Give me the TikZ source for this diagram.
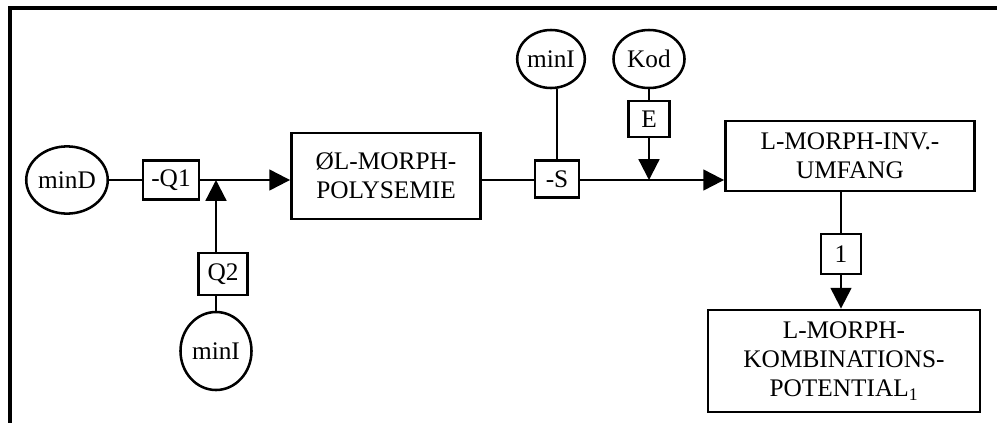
\documentclass[tikz,border=0pt]{standalone}
\usepackage{fontspec}
\setmainfont{Liberation Serif}
\usetikzlibrary{arrows.meta,positioning,shapes.geometric}
\tikzset{
  stagebox/.style={draw,line width=2pt,align=center,inner sep=0pt,
    font=\fontsize{18}{20.6}\selectfont},
  opbox/.style={draw,line width=1.8pt,inner sep=0pt,
    font=\fontsize{18}{20.6}\selectfont},
  parambubble/.style={draw,ellipse,line width=1.8pt,inner sep=0pt,
    font=\fontsize{18}{20.6}\selectfont},
  flowline/.style={line width=1.6pt},
  flowarrow/.style={flowline,-{Triangle[length=0.52cm,width=0.52cm]}}
}
\begin{document}
\begin{tikzpicture}[x=0.025cm,y=-0.025cm]
  \useasboundingbox (0,0) rectangle (999,423);
  % frame
  \draw[line width=2.4pt] (997,8) -- (10,8) -- (10,423);
  % main chain
  \node[parambubble,minimum width=2cm,minimum height=1.68cm] (minD) at (67,180) {minD};
  \node[opbox,minimum width=1.4cm,minimum height=0.975cm] (q1) at (171,180) {-Q1};
  \coordinate (j1) at (216,180);
  \node[opbox,minimum width=1.225cm,minimum height=1.05cm] (q2) at (223,274) {Q2};
  \node[parambubble,minimum width=1.775cm,minimum height=1.95cm] (minbot) at (216,351) {minI};
  \node[stagebox,minimum width=4.725cm,minimum height=2.15cm] (poly) at (386,176)
    {ØL-MORPH-\\POLYSEMIE};
  \node[opbox,minimum width=1.1cm,minimum height=0.925cm] (s) at (557,179) {-S};
  \node[parambubble,minimum width=1.625cm,minimum height=1.45cm] (mintop) at (551,59) {minI};
  \node[parambubble,minimum width=1.775cm,minimum height=1.45cm] (kod) at (649,59) {Kod};
  \node[opbox,minimum width=1.025cm,minimum height=0.9cm] (e) at (649,119) {E};
  \coordinate (j2) at (649,180);
  \node[stagebox,minimum width=6.225cm,minimum height=1.75cm] (inv) at (850,156)
    {L-MORPH-INV.-\\UMFANG};
  \node[opbox,minimum width=1cm,minimum height=1cm] (one) at (841,254) {1};
  \node[stagebox,minimum width=6.8cm,minimum height=2.55cm] (komb) at (844,361)
    {L-MORPH-\\KOMBINATIONS-\\POTENTIAL\textsubscript{1}};
  % connectors
  \draw[flowline] (minD) -- (q1);
  \draw[flowline] (q1) -- (j1);
  \draw[flowline] (minbot) -- (minbot |- q2.south);
  \draw[flowarrow] (j1 |- q2.north) -- (j1);
  \draw[flowarrow] (j1) -- (j1 -| poly.west);
  \draw[flowline] (j1 -| poly.east) -- (j1 -| s.west);
  \draw[flowline] (s.north) -- (s.north |- mintop.south);
  \draw[flowline] (j1 -| s.east) -- (j2);
  \draw[flowline] (kod) -- (e);
  \draw[flowarrow] (e) -- (j2);
  \draw[flowarrow] (j2) -- (j2 -| inv.west);
  \draw[flowline] (inv.south -| one) -- (one);
  \draw[flowarrow] (one) -- (one |- komb.north);
\end{tikzpicture}
\end{document}
